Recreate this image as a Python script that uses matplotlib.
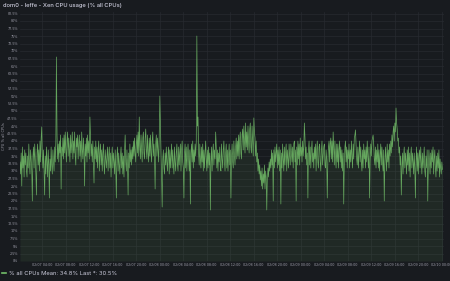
import numpy as np
import pandas as pd
import matplotlib
matplotlib.use("Agg")
import matplotlib.pyplot as plt
import matplotlib.dates as mdates
from matplotlib.lines import Line2D

title = "dom0 - leffe - Xen CPU usage (% all CPUs)"
series_name = "% all CPUs"
legend_stats = "Mean: 34.8% Last *: 30.5%"
y_label = "CPU % all CPUs"
start_time = "2025-02-07 00:15"
step_minutes = 6

cpu_values = [
    33, 29, 36, 25, 38, 31, 35, 28, 37, 32,
    36, 30, 28, 35, 31, 39, 33, 29, 37, 34,
    30, 20, 35, 38, 31, 39, 34, 29, 22, 36,
    39, 32, 37, 30, 40, 33, 41, 44.7, 35, 31,
    37, 30, 22, 35, 29, 38, 33, 28, 37, 32,
    21, 34, 30, 38, 32, 29, 37, 33, 30, 38,
    33, 40, 68, 42, 34, 39, 33, 40, 36, 42,
    24, 38, 35, 41, 34, 42, 36, 43, 37, 33,
    40, 43, 35, 41, 37, 33, 42, 36, 39, 43,
    34, 40, 36, 43, 35, 32, 41, 38, 42, 34,
    39, 42, 35, 40, 33, 43, 37, 34, 41, 36,
    25, 39, 35, 41, 33, 42, 36, 40, 34, 48,
    41, 35, 39, 33, 40, 32, 26, 38, 34, 40,
    33, 38, 31, 37, 40, 30, 36, 39, 32, 37,
    30, 36, 39, 32, 29, 37, 34, 31, 35, 38,
    30, 35, 38, 31, 36, 28, 34, 38, 31, 36,
    33, 29, 37, 31, 21, 35, 38, 30, 36, 32,
    29, 35, 38, 31, 36, 29, 35, 28, 37, 42,
    33, 30, 37, 32, 22, 36, 31, 39, 33, 37,
    32, 38, 34, 40, 35, 41, 36, 33, 39, 42,
    36, 43, 35, 48, 38, 34, 42, 37, 33, 41,
    43, 36, 34, 41, 44, 37, 34, 42, 36, 33,
    41, 35, 42, 36, 33, 40, 43, 35, 39, 34,
    24, 39, 42, 35, 41, 37, 33, 42, 55, 45,
    36, 28, 18, 34, 37, 31, 29, 36, 32, 38,
    33, 30, 36, 38, 29, 37, 31, 35, 39, 31,
    37, 32, 29, 38, 33, 30, 36, 39, 32, 30,
    38, 32, 36, 39, 30, 37, 40, 33, 31, 21,
    36, 39, 31, 38, 30, 35, 39, 34, 30, 37,
    19, 36, 39, 33, 40, 31, 37, 33, 39, 35,
    40, 75, 45, 48, 36, 32, 39, 34, 31, 38,
    33, 39, 30, 37, 31, 36, 40, 34, 30, 37,
    31, 38, 32, 36, 17, 33, 38, 30, 36, 39,
    32, 37, 34, 43, 38, 31, 37, 30, 36, 33,
    38, 31, 30, 39, 34, 31, 37, 40, 33, 30,
    36, 39, 31, 37, 30, 35, 39, 32, 37, 21,
    34, 39, 33, 31, 40, 35, 32, 38, 41, 34,
    40, 35, 42, 34, 41, 43, 36, 34, 42, 44,
    37, 45, 40, 36, 46, 38, 43, 37, 45, 40,
    36, 44, 46, 38, 36, 45, 40, 35, 47.7, 43,
    41, 35, 40, 33, 36, 30, 34, 29, 32, 27,
    30, 25, 31, 24, 29, 26, 32, 24, 30, 28,
    17, 27, 31, 28, 33, 30, 34, 31, 37, 32,
    36, 20, 37, 31, 38, 33, 36, 39, 31, 37,
    32, 38, 30, 37, 19, 36, 31, 39, 34, 30,
    38, 32, 36, 39, 30, 37, 34, 31, 39, 35,
    32, 39, 36, 33, 38, 31, 39, 40, 33, 37,
    20, 38, 32, 40, 34, 39, 32, 41, 35, 38,
    33, 40, 35, 38, 46, 41, 34, 38, 32, 36,
    21, 37, 40, 32, 38, 31, 37, 40, 33, 36,
    31, 38, 34, 39, 30, 37, 40, 33, 31, 38,
    39, 33, 30, 37, 40, 32, 35, 38, 39, 32,
    31, 37, 34, 21, 33, 38, 40, 33, 39, 41,
    34, 40, 33, 43, 38, 32, 40, 35, 31, 39,
    33, 39, 31, 37, 40, 33, 38, 31, 37, 30,
    36, 19, 32, 38, 40, 33, 38, 31, 37, 34,
    39, 31, 37, 33, 40, 35, 31, 39, 34, 41,
    42, 43.7, 39, 34, 32, 38, 31, 36, 40, 33,
    38, 33, 30, 37, 31, 39, 34, 37, 31, 38,
    33, 40, 35, 31, 38, 21, 33, 39, 35, 40,
    41, 42, 39, 34, 32, 38, 31, 37, 33, 39,
    31, 37, 30, 35, 39, 32, 38, 33, 30, 37,
    20, 32, 38, 34, 30, 39, 33, 37, 31, 39,
    35, 40, 36, 42, 38, 43, 45, 40, 46, 43,
    51, 46, 44, 40, 41, 36, 38, 32, 35, 22,
    31, 36, 29, 35, 38, 31, 36, 33, 29, 37,
    32, 38, 30, 36, 28, 35, 38, 31, 36, 33,
    29, 36, 31, 21, 33, 38, 30, 36, 29, 35,
    37, 31, 38, 33, 29, 36, 31, 34, 38, 30,
    28, 35, 31, 37, 20, 31, 37, 33, 29, 36,
    31, 37, 33, 38, 29, 34, 37, 31, 28, 35,
    30, 36, 31, 37, 28, 34, 31, 29, 33, 30.5,
]

times = pd.date_range(start_time, periods=len(cpu_values), freq=f"{step_minutes}min")

BG = "#181b1f"
LINE = "#73bf69"
GRID = "#272a30"
TXT = "#ccccdc"
TICK = "#9a9aa6"

fig = plt.figure(figsize=(4.5, 2.81), dpi=100, facecolor=BG)
ax = fig.add_axes([20/450, 1-261/281, 424/450, 249/281], facecolor=BG)

ax.fill_between(times, cpu_values, 0, color=LINE, alpha=0.09, linewidth=0)
ax.plot(times, cpu_values, color=LINE, linewidth=0.5, alpha=0.85)

yt = np.arange(0, 83, 2.5)
ax.set_ylim(0, 83)
ax.set_yticks(yt)
ax.set_yticklabels([f"{v:g}%" for v in yt])
ax.set_xlim(times[0], pd.Timestamp("2025-02-10 00:25"))
ax.xaxis.set_major_locator(mdates.HourLocator(byhour=[0, 4, 8, 12, 16, 20]))
ax.xaxis.set_major_formatter(mdates.DateFormatter("%m/%d %H:%M"))

ax.tick_params(axis="both", length=0, colors=TICK, labelsize=2.4, pad=1.5)
ax.grid(True, color=GRID, linewidth=0.5)
ax.set_axisbelow(True)
for s in ax.spines.values():
    s.set_visible(False)

ax.set_ylabel(y_label, color=TICK, fontsize=2.6, labelpad=1)

fig.text(3/450, 1-6/281, title, color=TXT, fontsize=4.2, family="Inter",
         ha="left", va="center", fontweight="medium")

handle = Line2D([], [], color=LINE, linewidth=1.2)
fig.legend([handle], [f"{series_name} {legend_stats}"], loc="center left",
           bbox_to_anchor=(0, 1-273/281), frameon=False,
           handlelength=0.8, handletextpad=0.5, borderaxespad=0, borderpad=0.3,
           labelcolor=TXT, prop={"family": "Inter", "size": 4.2})

fig.savefig("out.png", dpi=100, facecolor=BG)
